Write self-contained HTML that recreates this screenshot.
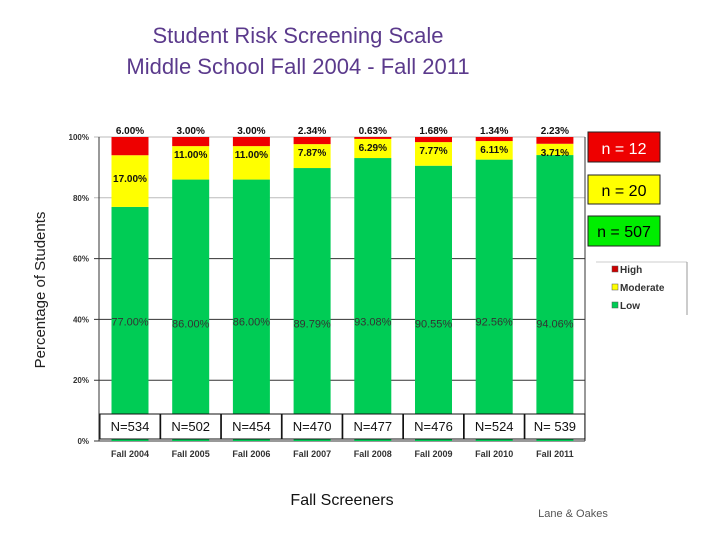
<!DOCTYPE html>
<html><head><meta charset="utf-8"><style>
body{margin:0;background:#fff;}
svg{display:block;font-family:"Liberation Sans",Arial,sans-serif;}
</style></head><body>
<svg id="c" width="720" height="540" viewBox="0 0 720 540">
<text x="298" y="43" text-anchor="middle" font-size="22" fill="#5b3a8c" font-family="Liberation Sans, sans-serif">Student Risk Screening Scale</text>
<text x="298" y="74" text-anchor="middle" font-size="22" fill="#5b3a8c">Middle School Fall 2004  -  Fall 2011</text>
<text transform="translate(45,290) rotate(-90)" text-anchor="middle" font-size="15" fill="#222">Percentage of Students</text>
<text x="342" y="505" text-anchor="middle" font-size="16" fill="#111">Fall Screeners</text>
<text x="573" y="517" text-anchor="middle" font-size="11" fill="#555">Lane &amp; Oakes</text>
<g id="grid"></g><g id="bars"></g><g id="labels"></g>
<rect x="588" y="132" width="72" height="30" fill="#ee0000" stroke="#222"/>
<text x="624" y="154" text-anchor="middle" font-size="16" fill="#fff">n = 12</text>
<rect x="588" y="175" width="72" height="29" fill="#ffff00" stroke="#222"/>
<text x="624" y="196" text-anchor="middle" font-size="16" fill="#000">n = 20</text>
<rect x="588" y="216" width="72" height="30" fill="#00ee00" stroke="#222"/>
<text x="624" y="237" text-anchor="middle" font-size="16" fill="#000">n = 507</text>
<g>
<line x1="596" y1="262" x2="687" y2="262" stroke="#ccc"/>
<line x1="687" y1="262" x2="687" y2="315" stroke="#999"/>
<rect x="612" y="266" width="6" height="6" fill="#cc0000" stroke="#555" stroke-width="0.5"/>
<text x="620" y="273" font-size="10" font-weight="bold" fill="#333">High</text>
<rect x="612" y="284" width="6" height="6" fill="#ffff00" stroke="#555" stroke-width="0.5"/>
<text x="620" y="291" font-size="10" font-weight="bold" fill="#333">Moderate</text>
<rect x="612" y="302" width="6" height="6" fill="#00cc55" stroke="#555" stroke-width="0.5"/>
<text x="620" y="309" font-size="10" font-weight="bold" fill="#333">Low</text>
</g>
</svg>
<script>
const categories=["Fall 2004","Fall 2005","Fall 2006","Fall 2007","Fall 2008","Fall 2009","Fall 2010","Fall 2011"];
const high=[6.00,3.00,3.00,2.34,0.63,1.68,1.34,2.23];
const moderate=[17.00,11.00,11.00,7.87,6.29,7.77,6.11,3.71];
const low=[77.00,86.00,86.00,89.79,93.08,90.55,92.56,94.06];
const nCounts=["N=534","N=502","N=454","N=470","N=477","N=476","N=524","N= 539"];
const yTicks=[0,20,40,60,80,100];
const NS="http://www.w3.org/2000/svg";
const x0=99,x1=585,y0=441,y1=137,step=60.7,bw=37;
const y=v=>y0-(v/100)*(y0-y1);
const xc=i=>130+i*step;
function mk(t,a,p,txt){const e=document.createElementNS(NS,t);for(const k in a)e.setAttribute(k,a[k]);if(txt!==undefined)e.textContent=txt;p.appendChild(e);return e;}
const g=document.getElementById('grid'),b=document.getElementById('bars'),l=document.getElementById('labels');
yTicks.forEach(v=>{
 const ln=mk('line',{x1:x0-5,x2:x1,y1:y(v),y2:y(v),stroke:v==80||v==100?'#bbb':'#333','stroke-width':1},g);
 
 
 const t=mk('text',{x:x0-10,y:y(v)+3,'text-anchor':'end','font-size':8,'font-weight':'bold',fill:'#333'},g,v+'%');
 
 
});
mk('line',{x1:x0,x2:x0,y1:y1,y2:y0,stroke:'#333'},g);
mk('line',{x1:x1,x2:x1,y1:y1,y2:y0,stroke:'#333'},g);
categories.forEach((c,i)=>{
 const cx=xc(i),xl=cx-bw/2;
 const r1=mk('rect',{x:xl,y:y(low[i]),width:bw,height:y0-y(low[i]),fill:'#00cc55'},b);
 
 
 const r2=mk('rect',{x:xl,y:y(low[i]+moderate[i]),width:bw,height:y(low[i])-y(low[i]+moderate[i]),fill:'#ffff00'},b);
 
 
 const top=Math.min(100,low[i]+moderate[i]+high[i]);
 const r3=mk('rect',{x:xl,y:y(top),width:bw,height:y(low[i]+moderate[i])-y(top),fill:'#ee0000'},b);
 
 
 const th=mk('text',{x:cx,y:y1-3,'text-anchor':'middle','font-size':10,'font-weight':'bold',fill:'#111'},l,high[i].toFixed(2)+'%');
 
 
 const tm=mk('text',{x:cx,y:y(low[i]+moderate[i])+(moderate[i]>12?27:12),'text-anchor':'middle','font-size':10,'font-weight':'bold',fill:'#111'},l,moderate[i].toFixed(2)+'%');
 
 
 const tl=mk('text',{x:cx,y:y(40)+(i%2?8:6),'text-anchor':'middle','font-size':11,fill:'#333'},l,low[i].toFixed(2)+'%');
 
 
 const nb=mk('rect',{x:cx-30,y:414,width:60,height:25,fill:'#fff',stroke:'#111'},l);
 
 
 const nt=mk('text',{x:cx,y:431,'text-anchor':'middle','font-size':13,fill:'#111'},l,nCounts[i]);
 
 
 const xt=mk('text',{x:cx,y:457,'text-anchor':'middle','font-size':9,'font-weight':'bold',fill:'#333'},l,c);
 
 
});
</script>
</body></html>
